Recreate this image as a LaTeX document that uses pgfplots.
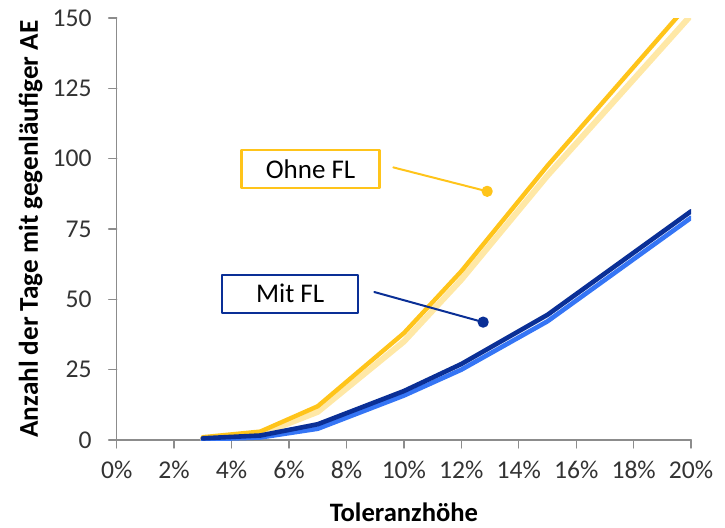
\documentclass[border=0pt]{standalone}
\usepackage{pgfplots}
\pgfplotsset{compat=1.18}
\usepackage{fontspec}
\setmainfont{Carlito}
\definecolor{ygold}{HTML}{FFC41A}
\definecolor{ylight}{HTML}{FFE8A6}
\definecolor{bdark}{HTML}{0A2F96}
\definecolor{blight}{HTML}{3575F5}
\definecolor{axgray}{HTML}{8C8C8C}
\begin{document}
\begin{tikzpicture}
\begin{axis}[
  at={(0,0)}, anchor=origin,
  scale only axis, width=287.2pt, height=211pt,
  xmin=0, xmax=20, ymin=0, ymax=150,
  axis x line*=bottom, axis y line*=left,
  axis line style={axgray, line width=0.7pt, -},
  xtick={0,2,...,20},
  xticklabels={0\%,2\%,4\%,6\%,8\%,10\%,12\%,14\%,16\%,18\%,20\%},
  ytick={0,25,...,150},
  tick align=outside,
  major tick length=4pt,
  tick style={axgray, line width=0.7pt},
  xticklabel style={font=\fontsize{12.8}{14}\selectfont, text=black!80, yshift=-3pt},
  yticklabel style={font=\fontsize{12.8}{14}\selectfont, text=black!80, xshift=-5pt},
  /pgf/number format/assume math mode=true,
  xlabel={\textbf{Toleranzhöhe}},
  ylabel={\textbf{Anzahl der Tage mit gegenläufiger AE}},
  xlabel style={at={([yshift=-36pt]axis description cs:0.5,0)}, anchor=center, font=\fontsize{13.3}{15}\selectfont},
  ylabel style={at={([xshift=-43pt]axis description cs:0,0.5)}, anchor=center, font=\fontsize{13.6}{15}\selectfont},
  line join=round, line cap=round,
]
% Ohne FL (light shadow then main)
\addplot[ylight, line width=3pt] coordinates {(3,0.5)(5,2)(7,10)(10,35)(12,57)(15,94)(20,151)};
\addplot[ygold, line width=2.2pt] coordinates {(3,1)(5,3)(7,12)(10,38)(12,60)(15,97.5)(20,156)};
% Mit FL
\addplot[blight, line width=2.3pt] coordinates {(3,0.2)(5,0.9)(7,4)(10,15.8)(12,25)(15,42.2)(20,79)};
\addplot[bdark, line width=2.3pt] coordinates {(3,0.6)(5,1.6)(7,5.6)(10,17.4)(12,27)(15,44.5)(20,81.3)};
% callouts
\addplot[ygold, line width=1pt, mark=*, mark size=2.3pt, mark indices={2}, mark options={fill=ygold, draw=ygold}] coordinates {(9.63,96.9)(12.9,88.4)};
\addplot[bdark, line width=1pt, mark=*, mark size=2.3pt, mark indices={2}, mark options={fill=bdark, draw=bdark}] coordinates {(8.97,52.6)(12.76,41.9)};
\node[draw=ygold, line width=1.1pt, fill=white, minimum width=69pt, minimum height=19pt, inner sep=0pt, font=\fontsize{13.5}{15}\selectfont] at (axis cs:6.75,96.4) {Ohne FL};
\node[draw=bdark, line width=1.1pt, fill=white, minimum width=68pt, minimum height=19pt, inner sep=0pt, font=\fontsize{13.5}{15}\selectfont] at (axis cs:6.04,52.0) {Mit FL};
\end{axis}
\pgfresetboundingbox
\path (-58.35pt,-43.5pt) rectangle (304.15pt,220pt);
\end{tikzpicture}
\end{document}
